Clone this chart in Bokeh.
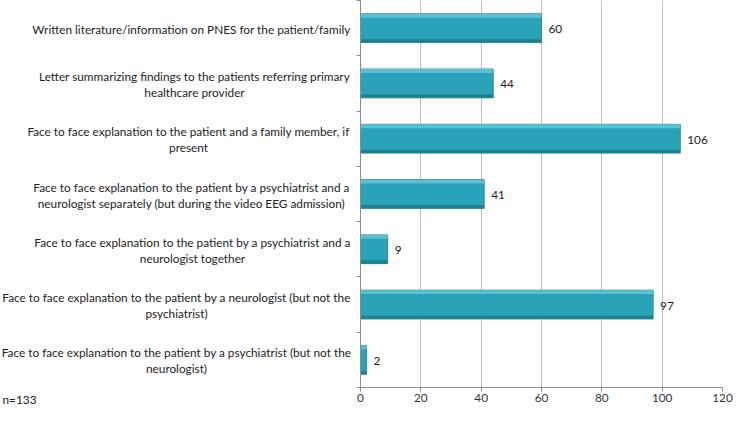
from bokeh.plotting import figure
from bokeh.models import Range1d, FixedTicker, LinearAxis
from bokeh.layouts import row
from bokeh.core.properties import value
from bokeh.embed import file_html
from bokeh.resources import INLINE

categories = [
    "Written literature/information on PNES for the patient/family",
    "Letter summarizing findings to the patients referring primary\nhealthcare provider",
    "Face to face explanation to the patient and a family member, if\npresent",
    "Face to face explanation to the patient by a psychiatrist and a\nneurologist separately (but during the video EEG admission)",
    "Face to face explanation to the patient by a psychiatrist and a\nneurologist together",
    "Face to face explanation to the patient by a neurologist (but not the\npsychiatrist)",
    "Face to face explanation to the patient by a psychiatrist (but not the\nneurologist)",
]
values = [60, 44, 106, 41, 9, 97, 2]
x_ticks = [0, 20, 40, 60, 80, 100, 120]
note = "n=133"

n = len(categories)
pos = [n - 0.5 - i for i in range(n)]
bar_h = 0.52

FONT = "Lato"
FS = "11.8px"
H = 409
LW = 356
RW = 734 - LW
BR, BT, BB = 12, 0, 19

# ---- right: bar chart ----
p = figure(width=RW, height=H, output_backend="svg", toolbar_location=None,
           x_range=Range1d(0, 120), y_range=Range1d(0, n),
           min_border_left=4, min_border_right=BR, min_border_top=BT, min_border_bottom=BB)
p.outline_line_color = None

p.hbar(y=pos, left=0, right=values, height=bar_h, fill_color="#2AA2B7", line_color="#2590A3", line_width=1)
p.hbar(y=[v + bar_h / 2 - 0.035 for v in pos], left=0, right=values, height=0.07,
       fill_color="#5DC0D2", line_color=None)
p.hbar(y=[v - bar_h / 2 + 0.03 for v in pos], left=0, right=values, height=0.06,
       fill_color="#21808F", line_color=None)

p.text(x=values, y=pos, text=[str(v) for v in values], x_offset=7, y_offset=1,
       text_align="left", text_baseline="middle", text_font_size=FS,
       text_color="#222222", text_font=value(FONT))

p.xaxis.ticker = FixedTicker(ticks=x_ticks)
p.xaxis.axis_line_color = "#8C8C8C"
p.xaxis.major_tick_line_color = "#8C8C8C"
p.xaxis.major_tick_out = 4
p.xaxis.major_tick_in = 0
p.xaxis.minor_tick_line_color = None
p.xaxis.major_label_text_font = FONT
p.xaxis.major_label_text_font_size = FS
p.xaxis.major_label_text_color = "#333333"
p.xaxis.major_label_standoff = 2

# y axis: only unlabeled tick marks at the band boundaries
p.yaxis.ticker = FixedTicker(ticks=[], minor_ticks=list(range(n + 1)))
p.yaxis.axis_line_color = "#8C8C8C"
p.yaxis.major_tick_line_color = None
p.yaxis.minor_tick_line_color = "#8C8C8C"
p.yaxis.minor_tick_out = 4
p.yaxis.minor_tick_in = 0

p.xgrid.grid_line_color = "#BDBDBD"
p.xgrid.ticker = FixedTicker(ticks=x_ticks)
p.ygrid.grid_line_color = None

# ---- left: category labels ----
q = figure(width=LW, height=H, output_backend="svg", toolbar_location=None,
           x_range=Range1d(0, LW), y_range=Range1d(0, n),
           min_border_left=0, min_border_right=0, min_border_top=BT, min_border_bottom=BB,
           x_axis_type=None, y_axis_type=None)
q.outline_line_color = None
q.grid.grid_line_color = None

note_x = 19
qa = LinearAxis(ticker=FixedTicker(ticks=[note_x]), major_label_overrides={note_x: note},
                axis_line_color=None, major_tick_line_color=None, minor_tick_line_color=None,
                major_tick_out=4, major_tick_in=0, major_label_standoff=0,
                major_label_text_font=FONT, major_label_text_font_size=FS,
                major_label_text_color="#222222")
q.add_layout(qa, "below")

block_center_px = [191, 194, 188, 191, 192, 176, 176]
line_gap = 16
lx, ly, lt, lo = [], [], [], []
for c, y, cx in zip(categories, pos, block_center_px):
    lines = c.split("\n")
    m = len(lines)
    for k, t in enumerate(lines):
        lx.append(cx)
        ly.append(y)
        lt.append(t)
        lo.append((k - (m - 1) / 2) * line_gap + 1)
q.text(x=lx, y=ly, text=lt, y_offset=lo, text_align="center",
       text_baseline="middle", text_font=value(FONT), text_font_size=FS,
       text_color="#222222")

layout = row(q, p, spacing=0)
open("out.html", "w").write(file_html(layout, INLINE))
